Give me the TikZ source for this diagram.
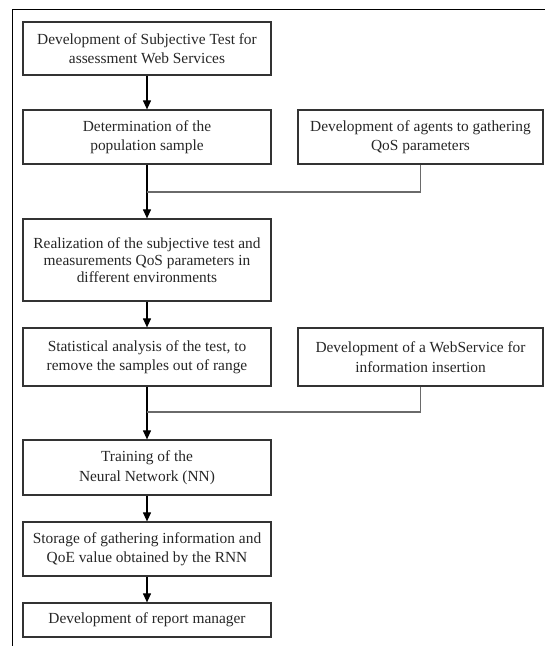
\documentclass[tikz,border=0pt]{standalone}
\usepackage{fontspec}
\setmainfont{Liberation Serif}
\usetikzlibrary{arrows.meta}
\definecolor{boxline}{HTML}{333333}
\definecolor{joinline}{HTML}{6A6A6A}
\tikzset{
  stepbox/.style={draw=boxline, line width=1.2pt, rectangle, align=center, inner sep=2pt,
    font=\fontsize{15.4}{19.5}\selectfont, text=black!85},
  flow/.style={draw=black, line width=1.1pt, -{Triangle[width=8pt,length=9pt]}},
  joinwire/.style={draw=joinline, line width=1.2pt},
  framewire/.style={draw=black, line width=1pt}
}
\begin{document}
\begin{tikzpicture}[x=1pt,y=1pt]
\useasboundingbox (0,0) rectangle (545,-646);
\coordinate (ftl) at (12,-9);
\coordinate (ftr) at (545,-9);
\coordinate (fbl) at (12,-646);
\draw[framewire] (ftr) -- (ftl) -- (fbl);

\node[stepbox, minimum width=248pt, minimum height=53pt] (b1) at (147,-48.5)
  {Development of Subjective Test for\\assessment Web Services};
\node[stepbox, minimum width=248pt, minimum height=54pt] (b2) at (147,-137)
  {Determination of the\\population sample};
\node[stepbox, minimum width=245pt, minimum height=54pt] (ag) at (420.5,-137)
  {Development of agents to gathering\\QoS parameters};
\node[stepbox, minimum width=248pt, minimum height=82pt, font=\fontsize{15.4}{16.8}\selectfont] (b3) at (147,-260)
  {Realization of the subjective test and\\measurements QoS parameters in\\different environments};
\node[stepbox, minimum width=248pt, minimum height=58pt] (b4) at (147,-357)
  {Statistical analysis of the test, to\\remove the samples out of range};
\node[stepbox, minimum width=245pt, minimum height=58pt] (ws) at (420.5,-357)
  {Development of a WebService for\\information insertion};
\node[stepbox, minimum width=248pt, minimum height=55pt] (b5) at (147,-467.5)
  {Training of the\\Neural Network (NN)};
\node[stepbox, minimum width=248pt, minimum height=54pt] (b6) at (147,-549)
  {Storage of gathering information and\\QoE value obtained by the RNN};
\node[stepbox, minimum width=248pt, minimum height=34pt] (b7) at (147,-620)
  {Development of report manager};

\coordinate (j1) at (147,-192);
\coordinate (j2) at (147,-412);

\draw[flow] (b1) -- (b2);
\draw[flow] (b2) -- (b3);
\draw[joinwire] (ag.south) |- (j1);
\draw[flow] (b3) -- (b4);
\draw[flow] (b4) -- (b5);
\draw[joinwire] (ws.south) |- (j2);
\draw[flow] (b5) -- (b6);
\draw[flow] (b6) -- (b7);
\end{tikzpicture}
\end{document}
